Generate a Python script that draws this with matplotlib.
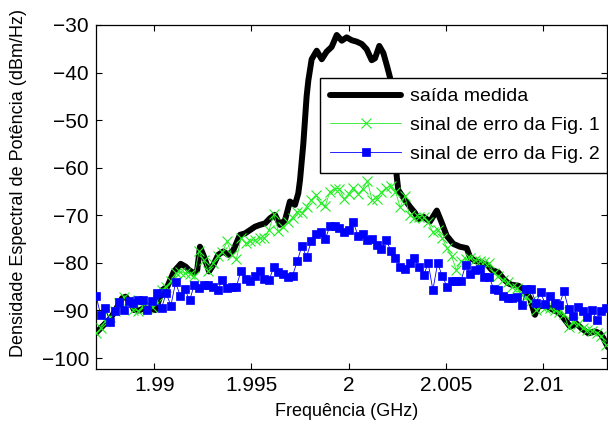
import numpy as np
import matplotlib
matplotlib.use("Agg")
import matplotlib.pyplot as plt

plt.rcParams['font.family'] = ['Liberation Sans', 'DejaVu Sans']

# ---- data ----
freq_black = [1.98698, 1.98741, 1.98776, 1.98810, 1.98835, 1.98853, 1.98879, 1.98896, 1.98921, 1.98947,
              1.98982, 1.99007, 1.99024, 1.99041, 1.99067, 1.99101, 1.99136, 1.99162, 1.99179, 1.99204,
              1.99221, 1.99235, 1.99256, 1.99282, 1.99307, 1.99329, 1.99355, 1.99381, 1.99407, 1.99441,
              1.99467, 1.99493, 1.99518, 1.99544, 1.99570, 1.99596, 1.99621, 1.99647, 1.99673, 1.99698,
              1.99724, 1.99741, 1.99750, 1.99767, 1.99784, 1.99793, 1.99810, 1.99836, 1.99862, 1.99887,
              1.99913, 1.99939, 1.99965, 1.99990, 2.00016, 2.00042, 2.00068, 2.00093, 2.00119, 2.00136,
              2.00158, 2.00179, 2.00199, 2.00213, 2.00226, 2.00248, 2.00256, 2.00282, 2.00316, 2.00342,
              2.00359, 2.00385, 2.00419, 2.00454, 2.00479, 2.00505, 2.00539, 2.00573, 2.00608, 2.00625,
              2.00651, 2.00685, 2.00714, 2.00737, 2.00771, 2.00796, 2.00822, 2.00840, 2.00874, 2.00908,
              2.00934, 2.00959, 2.00976, 2.01011, 2.01045, 2.01088, 2.01114, 2.01140, 2.01174, 2.01200,
              2.01234, 2.01268, 2.01294, 2.01311, 2.01334]
psd_black = [-94.8, -93.0, -91.6, -89.2, -87.4, -87.1, -88.5, -89.9, -90.0, -89.5,
             -89.7, -89.9, -87.8, -85.7, -85.0, -81.8, -80.2, -80.8, -81.5, -82.2,
             -81.5, -76.6, -78.7, -81.8, -80.2, -78.3, -77.6, -78.3, -77.3, -74.1,
             -73.8, -73.1, -72.4, -72.0, -71.7, -70.6, -69.9, -72.0, -71.0, -67.1,
             -67.8, -65.4, -62.6, -55.0, -45.0, -41.6, -37.2, -35.4, -37.2, -35.6,
             -34.6, -32.1, -33.3, -32.6, -33.2, -33.5, -34.0, -35.1, -37.4, -37.0,
             -34.4, -35.9, -38.8, -41.0, -50.0, -61.9, -64.7, -66.3, -68.2, -69.5,
             -70.8, -70.3, -71.3, -69.0, -71.5, -74.3, -76.0, -76.6, -76.9, -78.8,
             -79.6, -80.0, -80.4, -81.5, -82.0, -83.3, -84.3, -84.6, -84.8, -85.7,
             -87.5, -90.9, -89.2, -88.9, -89.7, -90.6, -92.0, -93.4, -92.8, -93.8,
             -94.8, -94.4, -94.8, -95.8, -97.7]

freq_err = np.linspace(1.987, 2.01325, 110)
psd_fig1 = [-94.8, -93.7, -92.3, -91.4, -90.2, -88.5, -87.1, -87.8, -89.8, -90.1,
            -89.2, -89.5, -89.2, -88.5, -85.6, -85.0, -83.9, -82.2, -81.9, -82.2,
            -82.3, -82.7, -77.6, -79.4, -81.8, -80.1, -78.5, -77.8, -75.5, -78.3,
            -79.2, -74.8, -75.9, -75.5, -75.2, -74.8, -74.8, -73.0, -69.8, -73.4,
            -72.5, -71.5, -70.5, -69.2, -69.5, -68.2, -66.8, -65.7, -67.5, -68.0,
            -65.0, -64.4, -64.4, -66.5, -65.5, -64.2, -65.5, -64.5, -62.8, -66.8,
            -66.5, -65.2, -64.3, -63.8, -65.0, -68.3, -65.9, -70.0, -70.6, -70.3,
            -70.3, -71.5, -73.6, -73.0, -74.8, -76.8, -78.6, -81.5, -79.7, -79.2,
            -79.0, -79.4, -79.6, -79.9, -80.1, -82.2, -82.8, -83.6, -84.1, -85.0,
            -85.2, -86.8, -87.2, -88.0, -89.9, -89.0, -89.5, -89.5, -89.9, -90.3,
            -90.8, -93.5, -92.4, -92.9, -93.6, -94.2, -94.3, -94.7, -95.3, -97.2]
psd_fig2 = [-86.9, -90.9, -89.5, -92.5, -90.2, -88.3, -89.9, -88.1, -88.5, -87.9,
            -87.9, -89.9, -88.1, -86.4, -89.5, -86.4, -89.0, -84.1, -86.9, -85.5,
            -87.9, -84.6, -85.3, -84.6, -84.6, -85.0, -85.7, -83.6, -85.3, -85.0,
            -85.0, -81.6, -83.4, -83.9, -82.7, -81.6, -83.4, -83.6, -80.8, -82.0,
            -82.3, -83.0, -82.7, -79.7, -76.4, -78.7, -75.5, -74.0, -73.6, -75.0,
            -72.2, -72.2, -72.6, -73.5, -73.1, -71.5, -74.3, -74.0, -75.1, -74.9,
            -76.3, -77.0, -75.2, -77.4, -78.9, -80.8, -81.3, -80.1, -78.9, -80.9,
            -82.6, -80.1, -85.7, -80.1, -82.7, -85.0, -83.9, -83.8, -83.8, -80.4,
            -82.3, -81.5, -81.3, -82.9, -82.9, -85.5, -85.7, -86.9, -87.4, -87.4,
            -87.2, -88.8, -85.5, -85.5, -88.5, -86.2, -88.6, -86.9, -88.5, -88.8,
            -86.0, -89.7, -91.1, -89.3, -90.2, -91.3, -89.9, -92.1, -90.2, -89.5]

labels = ['saída medida', 'sinal de erro da Fig. 1', 'sinal de erro da Fig. 2']
xticks = [1.99, 1.995, 2.0, 2.005, 2.01]
xticklabels = ['1.99', '1.995', '2', '2.005', '2.01']
yticks = [-100, -90, -80, -70, -60, -50, -40, -30]

# ---- figure ----
fig = plt.figure(figsize=(6.08, 4.32), dpi=100)
ax = fig.add_axes([96/608, 1 - 369/432, 511/608, 344/432])

ax.plot(freq_black, psd_black, color='black', lw=4.3, solid_joinstyle='round',
        solid_capstyle='round', label=labels[0], zorder=2)
ax.plot(freq_err, psd_fig1, color='#22ee22', lw=0.6, marker='x', markersize=6.5,
        markeredgewidth=0.8, label=labels[1], zorder=3)
ax.plot(freq_err, psd_fig2, color='#0000ff', lw=0.6, marker='s', markersize=6,
        markeredgewidth=0.5, label=labels[2], zorder=4)

ax.set_xlim(1.987, 2.0133)
ax.set_ylim(-102.3, -30)
ax.set_xticks(xticks)
ax.set_xticklabels(xticklabels)
ax.set_yticks(yticks)
ax.tick_params(direction='in', length=4, width=0.8, top=True, right=True,
               labelsize=15, pad=5)
for s in ax.spines.values():
    s.set_linewidth(0.9)

ax.set_xlabel('Frequência (GHz)', fontsize=13)
ax.set_ylabel('Densidade Espectral de Potência (dBm/Hz)', fontsize=13)
ax.xaxis.set_label_coords(0.49, -0.099)
ax.yaxis.set_label_coords(-0.135, 0.54)

leg = ax.legend(loc='upper left', bbox_to_anchor=(0.438, 0.564, 0.562, 0.282),
                mode='expand', borderaxespad=0, fontsize=14, numpoints=1,
                handlelength=3.7, handletextpad=0.45, labelspacing=0.58,
                fancybox=False, framealpha=1, edgecolor='black', borderpad=0.5)
leg.get_frame().set_linewidth(1.0)

fig.savefig('out.png', dpi=100, facecolor='white')
